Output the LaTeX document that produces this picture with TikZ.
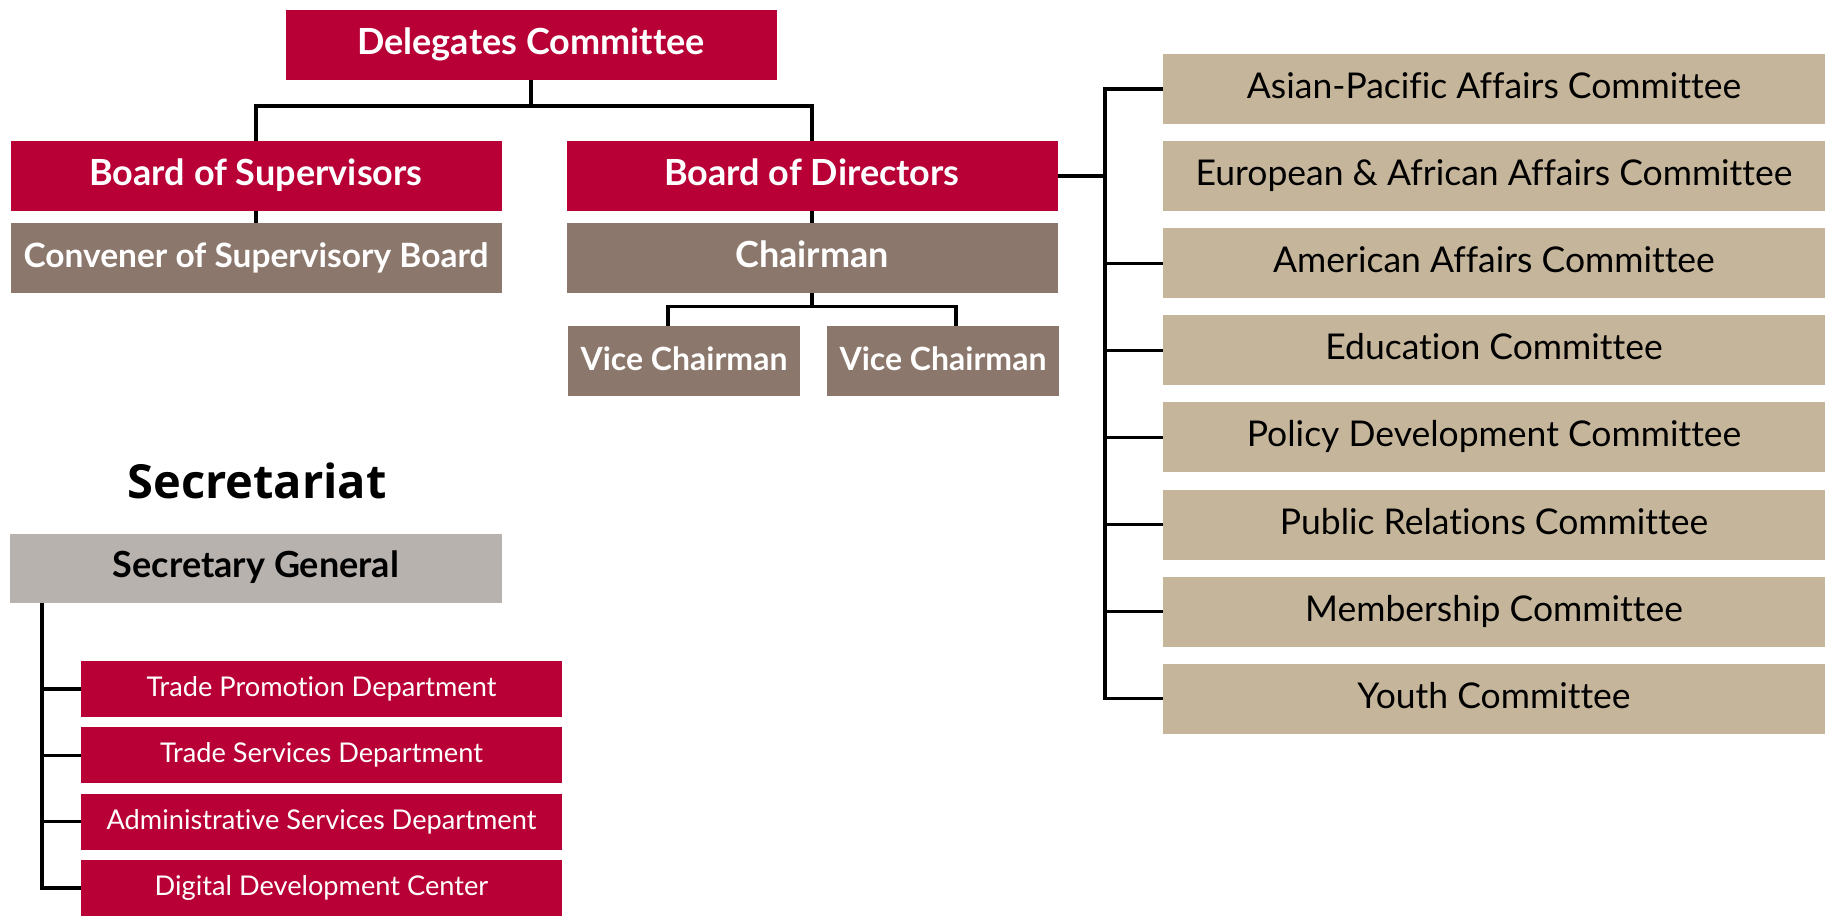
\documentclass[tikz,border=0pt]{standalone}
\usepackage{fontspec}
\setmainfont[Ligatures=NoCommon]{Lato}
\newfontfamily\headfont{Open Sans}
\definecolor{crimson}{RGB}{184,0,54}
\definecolor{taupe}{RGB}{139,119,107}
\definecolor{sand}{RGB}{197,181,154}
\definecolor{stone}{RGB}{183,178,174}
\begin{document}
\begin{tikzpicture}[x=1pt,y=-1pt,
  box/.style={rectangle,inner sep=0pt,minimum height=70pt,text height=26pt,text depth=7pt},
  boldtext/.style={font=\bfseries\fontsize{36}{42}\selectfont},
  redbox/.style={box,boldtext,fill=crimson,text=white,minimum width=491pt},
  brownbox/.style={box,boldtext,fill=taupe,text=white,minimum width=491pt},
  vcbox/.style={box,fill=taupe,text=white,minimum width=232pt,font=\bfseries\fontsize{32}{38}\selectfont},
  greybox/.style={box,boldtext,fill=stone,text=black,minimum width=492pt,minimum height=69pt},
  sandbox/.style={box,fill=sand,text=black,minimum width=662pt,font=\fontsize{35.5}{42}\selectfont},
  deptbox/.style={box,fill=crimson,text=white,minimum width=481pt,minimum height=56pt,
    text height=20pt,text depth=5pt,font=\fontsize{27.2}{32}\selectfont},
  link/.style={draw,line width=3.4pt}]
  \useasboundingbox (0,0) rectangle (1825,918);
  % top of the chart
  \node[redbox] (dc) at (531,45) {Delegates Committee};
  \node[redbox] (bs) at (256,176) {Board of Supervisors};
  \node[redbox] (bd) at (812,176) {Board of Directors};
  \node[brownbox,font=\bfseries\fontsize{33.5}{40}\selectfont] (conv) at (256,258) {Convener of Supervisory Board};
  \node[brownbox] (chair) at (812,258) {Chairman};
  \node[vcbox] (vc1) at (684,361) {Vice Chairman};
  \node[vcbox] (vc2) at (943,361) {Vice Chairman};
  \draw[link] (dc.south) -- ++(0,27);
  \draw[link] (bs.north) -- ++(0,-35) -| (bd.north);
  \draw[link] (bs) -- (conv);
  \draw[link] (bd) -- (chair);
  \draw[link] (chair.south) -- ++(0,13) coordinate (cj);
  \draw[link] ([xshift=-16pt]vc1.north) |- (cj) -| ([xshift=13pt]vc2.north);
  % committees
  \foreach \name/\txt [count=\i] in {cm1/Asian-Pacific Affairs Committee,
      cm2/European \& African Affairs Committee,cm3/American Affairs Committee,
      cm4/Education Committee,cm5/Policy Development Committee,
      cm6/Public Relations Committee,cm7/Membership Committee,cm8/Youth Committee}
    \node[sandbox] (\name) at (1494,{89+(\i-1)*87.1}) {\txt};
  \coordinate (bus) at (1105,0);
  \draw[link] (cm1.west) -| (cm1.west -| bus) |- (cm8.west);
  \draw[link] (bd.east) -- (bd.east -| bus);
  \foreach \i in {3,...,7}
    \draw[link] (cm\i.west) -- (cm\i.west -| bus);
  % secretariat
  \node[font=\headfont\bfseries\fontsize{47}{55}\selectfont] (sec) at (257,481) {Secretariat};
  \node[greybox] (sg) at (256,568) {Secretary General};
  \foreach \name/\txt [count=\i] in {dp1/Trade Promotion Department,
      dp2/Trade Services Department,dp3/Administrative Services Department,
      dp4/Digital Development Center}
    \node[deptbox] (\name) at (321.5,{689+(\i-1)*66.3}) {\txt};
  \coordinate (sgbus) at ([xshift=32pt]sg.south west);
  \draw[link] (sgbus) |- (dp4.west);
  \foreach \i in {1,2,3}
    \draw[link] (dp\i.west) -- (dp\i.west -| sgbus);
\end{tikzpicture}
\end{document}
